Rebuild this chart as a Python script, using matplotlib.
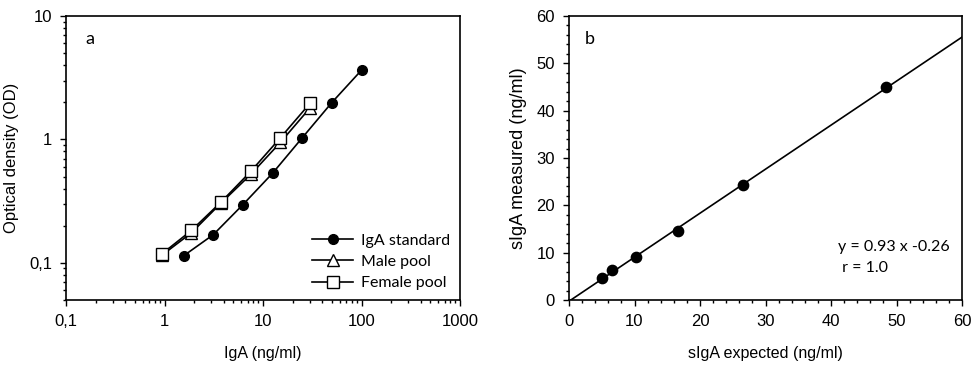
import matplotlib.pyplot as plt
import numpy as np
from matplotlib.ticker import FixedLocator, LogLocator, FuncFormatter, MultipleLocator

plt.rcParams['font.family'] = ['Liberation Sans', 'DejaVu Sans']

# panel a: ELISA standard curves
std_conc = [1.5625, 3.125, 6.25, 12.5, 25, 50, 100]
std_od = [0.114, 0.169, 0.296, 0.532, 1.03, 1.99, 3.64]
pool_conc = [0.9375, 1.875, 3.75, 7.5, 15, 30]
male_od = [0.115, 0.175, 0.305, 0.52, 0.945, 1.80]
female_od = [0.118, 0.183, 0.311, 0.55, 1.03, 1.96]

# panel b: recovery
siga_expected = [5.0, 6.5, 10.3, 16.6, 26.5, 48.4]
siga_measured = [4.7, 6.4, 9.15, 14.6, 24.3, 45.1]
slope, intercept = 0.93, -0.26

fig = plt.figure(figsize=(9.71, 3.66), dpi=100)
W, H = 971, 366
ax1 = fig.add_axes([66/W, 1-300/H, (460-66)/W, (300-16)/H])
ax2 = fig.add_axes([569/W, 1-300/H, (962-569)/W, (300-16)/H])

comma = FuncFormatter(lambda v, p: ('%g' % v).replace('.', ','))
calibri = ['Lato', 'DejaVu Sans']

ax1.plot(std_conc, std_od, 'k-o', ms=7, lw=1.2, label='IgA standard')
ax1.plot(pool_conc, male_od, 'k-^', ms=8, lw=1.2, mfc='white', label='Male pool')
ax1.plot(pool_conc, female_od, 'k-s', ms=8, lw=1.2, mfc='white', label='Female pool')
ax1.set_xscale('log')
ax1.set_yscale('log')
ax1.set_xlim(0.1, 1000)
ax1.set_ylim(0.05, 10)
ax1.xaxis.set_major_locator(FixedLocator([0.1, 1, 10, 100, 1000]))
ax1.yaxis.set_major_locator(FixedLocator([0.1, 1, 10]))
ax1.xaxis.set_minor_locator(LogLocator(subs=np.arange(2, 10)))
ax1.yaxis.set_minor_locator(LogLocator(subs=np.arange(2, 10)))
ax1.xaxis.set_major_formatter(comma)
ax1.yaxis.set_major_formatter(comma)
ax1.set_xlabel('IgA (ng/ml)', fontsize=11.5, labelpad=12)
ax1.set_ylabel('Optical density (OD)', fontsize=12, labelpad=7)
ax1.text(0.05, 0.9, 'a', transform=ax1.transAxes, fontsize=13, family=calibri)
ax1.legend(loc='lower right', frameon=False, handlelength=2.6,
           handletextpad=0.5, labelspacing=0.45, borderaxespad=0.2,
           prop={'family': calibri, 'size': 11.5})

ax2.scatter(siga_expected, siga_measured, color='k', s=55, zorder=3)
fit_x = np.array([0, 60])
ax2.plot(fit_x, slope * fit_x + intercept, 'k-', lw=1.2)
ax2.set_xlim(0, 60)
ax2.set_ylim(0, 60)
ax2.xaxis.set_major_locator(MultipleLocator(10))
ax2.yaxis.set_major_locator(MultipleLocator(10))
ax2.xaxis.set_minor_locator(MultipleLocator(2))
ax2.yaxis.set_minor_locator(MultipleLocator(2))
ax2.set_xlabel('sIgA expected (ng/ml)', fontsize=11.5, labelpad=12)
ax2.set_ylabel('sIgA measured (ng/ml)', fontsize=13, labelpad=7)
ax2.text(0.04, 0.9, 'b', transform=ax2.transAxes, fontsize=13, family=calibri)
ax2.text(0.684, 0.187, 'y = 0.93 x -0.26', transform=ax2.transAxes, fontsize=11.5,
         va='center', family=calibri)
ax2.text(0.684, 0.113, ' r = 1.0', transform=ax2.transAxes, fontsize=11.5,
         va='center', family=calibri)

for ax in (ax1, ax2):
    for s in ax.spines.values():
        s.set_linewidth(1.2)
    ax.tick_params(which='major', direction='out', length=4, width=1, labelsize=12, pad=6)
    ax.tick_params(which='minor', direction='out', length=2.5, width=1)

fig.savefig('out.png', dpi=100)
